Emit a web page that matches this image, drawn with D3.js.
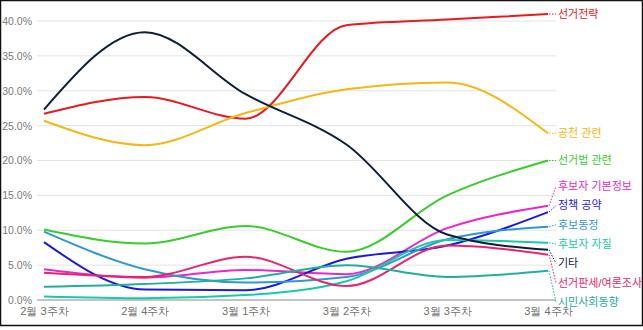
<!DOCTYPE html>
<html><head><meta charset="utf-8">
<script src="https://cdn.jsdelivr.net/npm/d3@7"></script>
<style>
html,body{margin:0;padding:0;background:#fff;}
svg{display:block;font-family:Arial,"Liberation Sans","Noto Sans CJK KR",sans-serif;}
</style></head>
<body><svg id="c" width="643" height="330"></svg>
<script>
const weeks = ["2월 3주차","2월 4주차","3월 1주차","3월 2주차","3월 3주차","3월 4주차"];
const seriesNames = ["선거전략","공천 관련","선거법 관련","후보자 기본정보","정책 공약","후보동정","후보자 자질","기타","선거판세/여론조사","시민사회동향"];
const s_strategy  = [26.7, 29.1, 26.0, 39.4, 40.2, 41.0];
const s_nomination= [25.7, 22.2, 26.8, 30.2, 31.2, 23.9];
const s_elecLaw   = [10.1, 8.1, 10.6, 6.9, 15.0, 20.0];
const s_candInfo  = [4.4, 3.2, 4.3, 3.7, 10.3, 13.5];
const s_policy    = [8.3, 1.5, 1.4, 5.9, 7.8, 12.6];
const s_candNews  = [9.8, 4.4, 2.5, 3.3, 8.7, 10.5];
const s_candQual  = [0.5, 0.25, 0.7, 2.7, 8.6, 8.2];
const s_etc       = [27.3, 38.4, 29.5, 22.3, 9.4, 7.2];
const s_polls     = [3.9, 3.3, 6.2, 2.0, 7.8, 6.5];
const s_civil     = [1.9, 2.3, 3.1, 5.0, 3.3, 4.2];
const yTicks = [0,5,10,15,20,25,30,35,40];
const colors = ["#e8191f","#f5b715","#38cc2c","#ea27c8","#1b1bd8","#2f99cf","#18c9a9","#0d1e3a","#e8246c","#22ae9e"];

const allSeries = [s_strategy,s_nomination,s_elecLaw,s_candInfo,s_policy,s_candNews,s_candQual,s_etc,s_polls,s_civil];
const svg = d3.select("#c");

svg.append("rect").attr("x",0.5).attr("y",0.5).attr("width",642).attr("height",325)
  .attr("fill","#fff").attr("stroke","#111").attr("stroke-width",1.5);

const x = d3.scalePoint().domain(weeks).range([44,548]);
const y = d3.scaleLinear().domain([0,40]).range([300,21]);

// gridlines
svg.append("g").selectAll("line").data(yTicks.filter(d=>d>0)).join("line")
  .attr("x1",37).attr("x2",556).attr("y1",d=>y(d)).attr("y2",d=>y(d))
  .attr("stroke","#e3e3e3").attr("stroke-width",1);

// y axis labels
const yAxis = d3.axisLeft(y).tickValues(yTicks).tickFormat(d=>d.toFixed(1)+"%").tickSize(0).tickPadding(3);
const gy = svg.append("g").attr("transform","translate(35,0)").call(yAxis);
gy.select(".domain").remove();
gy.selectAll("text").attr("fill","#7a7a7a").style("font-size","10.5px");

// x axis
const xAxis = d3.axisBottom(x).tickSize(0).tickPadding(7);
const gx = svg.append("g").attr("transform","translate(0,300)").call(xAxis);
gx.select(".domain").remove();
gx.selectAll("text").attr("fill","#6f6f6f").style("font-size","11px");
svg.append("line").attr("x1",37).attr("x2",556).attr("y1",y(0)).attr("y2",y(0))
  .attr("stroke","#8a8a8a").attr("stroke-width",1.2);

const line = d3.line().x((d,i)=>x(weeks[i])).y(d=>y(d)).curve(d3.curveMonotoneX);

svg.append("g").selectAll("path").data(allSeries).join("path")
  .attr("d",d=>line(d)).attr("fill","none")
  .attr("stroke",(d,i)=>colors[i]).attr("stroke-width",2);

// end labels with collision avoidance
const endY = allSeries.map(s=>y(s[s.length-1]));
const order = d3.range(allSeries.length).sort((a,b)=>endY[a]-endY[b]);
const gap = 19.3, bottom = 302;
const ly = {};
let prev = -Infinity;
order.forEach(i=>{ let v = Math.max(endY[i], prev+gap); ly[i]=v; prev=v; });
let nxt = bottom+gap;
for (let k=order.length-1;k>=0;k--){ const i=order[k]; ly[i]=Math.min(ly[i], nxt-gap); nxt=ly[i]; }

const lx = x(weeks[weeks.length-1]);
const lab = svg.append("g");
order.forEach(i=>{
  lab.append("line").attr("x1",lx+1).attr("y1",endY[i]).attr("x2",lx+8).attr("y2",ly[i])
    .attr("stroke",colors[i]).attr("stroke-width",1).attr("stroke-dasharray","1.5,1.5");
  lab.append("text").attr("x",lx+10).attr("y",ly[i]).attr("dy","0.35em")
    .attr("fill",colors[i]).style("font-size","11px").text(seriesNames[i]);
});
</script></body></html>
